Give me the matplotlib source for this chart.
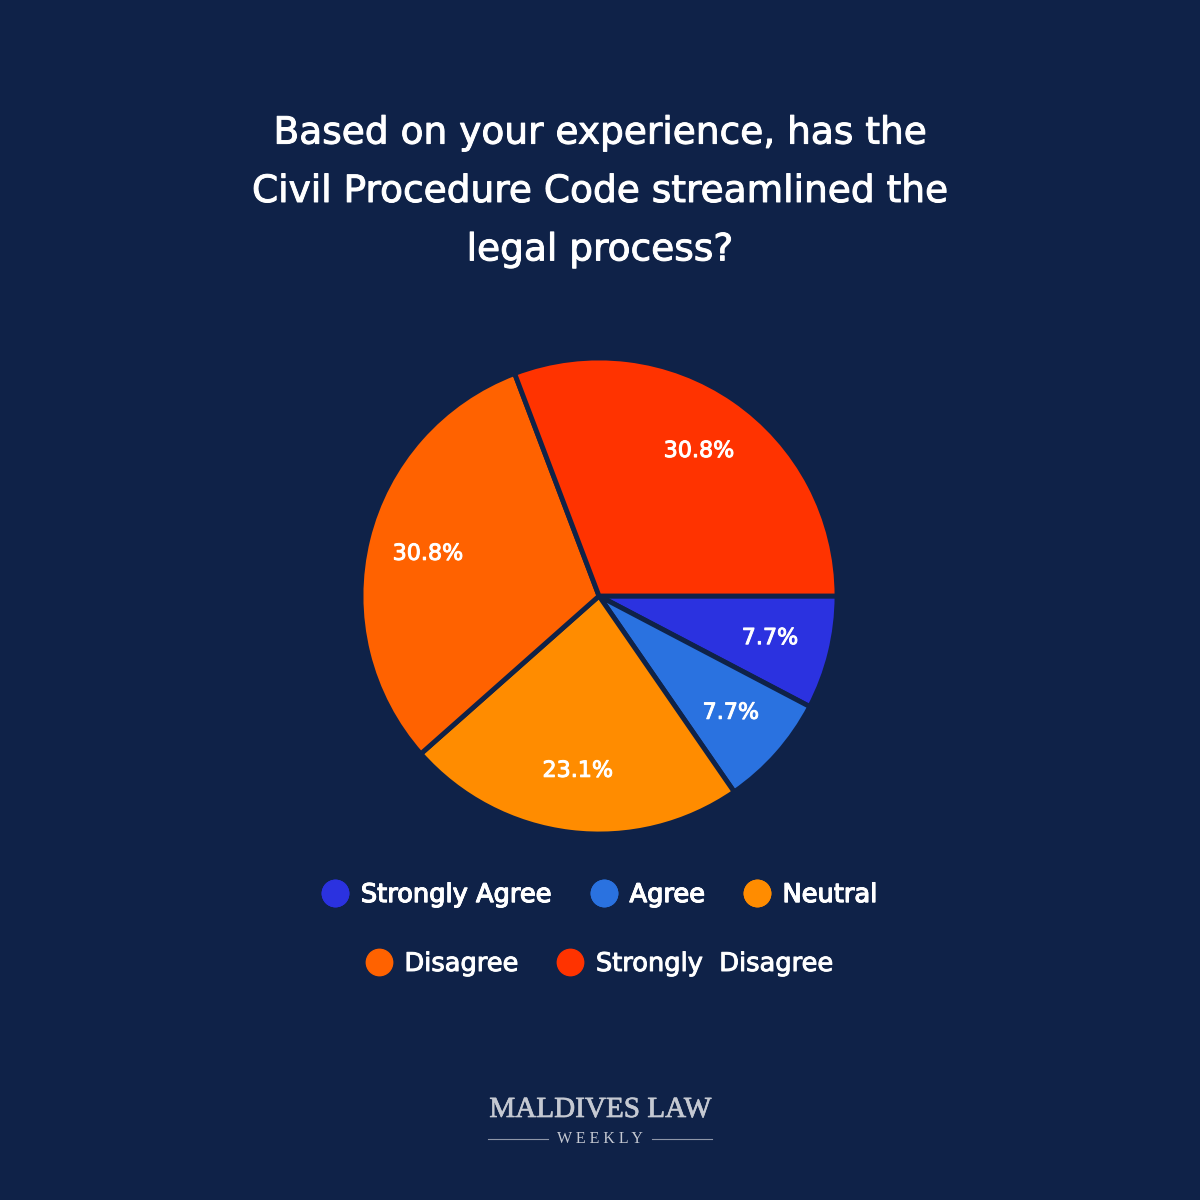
import matplotlib
matplotlib.use('Agg')
import matplotlib.pyplot as plt
import matplotlib.patheffects as pe
from matplotlib.lines import Line2D

labels = ['Strongly Agree', 'Agree', 'Neutral', 'Disagree', 'Strongly  Disagree']
values = [7.7, 7.7, 23.1, 30.8, 30.8]
colors = ['#2B32E0', '#2A72E0', '#FF8C00', '#FF6200', '#FF3300']
title = 'Based on your experience, has the\nCivil Procedure Code streamlined the\nlegal process?'

bg = '#0F2248'
font = 'DejaVu Sans'
# slight stroke to mimic a medium weight
bold = [pe.withStroke(linewidth=0.7, foreground='white')]

fig = plt.figure(figsize=(12, 12), dpi=100, facecolor=bg)

# pie axes: centre ~ (599, 596) px, radius ~ 238 px
r = 238 / 1200
cx, cy = 599 / 1200, 1 - 596 / 1200
ax = fig.add_axes([cx - r, cy - r, 2 * r, 2 * r])
ax.set_facecolor(bg)
wedges, texts, autotexts = ax.pie(
    values, colors=colors, startangle=0, counterclock=False,
    autopct='%1.1f%%', pctdistance=0.74, radius=1,
    wedgeprops={'edgecolor': bg, 'linewidth': 3.5},
    textprops={'color': 'white', 'fontsize': 16, 'family': font})
for t in autotexts:
    t.set_path_effects(bold)
ax.set_xlim(-1, 1)
ax.set_ylim(-1, 1)
ax.set_aspect('equal')
ax.axis('off')

fig.text(0.5, 1 - 192 / 1200, title, ha='center', va='center',
         color='white', fontsize=27, family=font, linespacing=1.8,
         path_effects=bold)

# legend in two centred rows
handles = [Line2D([], [], marker='o', linestyle='none', markersize=19,
                  markerfacecolor=c, markeredgecolor=c) for c in colors]
leg_kw = dict(frameon=False, handletextpad=0.5, columnspacing=1.5,
              handlelength=1.0, labelcolor='white',
              prop={'family': font, 'size': 18.5})
leg1 = fig.legend(handles[:3], labels[:3], ncol=3, loc='center',
                  bbox_to_anchor=(0.5, 1 - 895 / 1200), **leg_kw)
fig.add_artist(leg1)
leg2 = fig.legend(handles[3:], labels[3:], ncol=2, loc='center',
                  bbox_to_anchor=(0.5, 1 - 964 / 1200), **leg_kw)
for leg in (leg1, leg2):
    for t in leg.get_texts():
        t.set_path_effects(bold)

# logo
logo = '#C5C9D2'
fig.text(0.5, 1 - 1110 / 1200, 'MALDIVES LAW', ha='center', va='center',
         color=logo, fontsize=21, family='Liberation Serif',
         path_effects=[pe.withStroke(linewidth=0.5, foreground=logo)])
fig.text(0.5, 1 - 1139 / 1200, 'W E E K L Y', ha='center', va='center',
         color=logo, fontsize=11.5, family='Liberation Serif')
y_line = 1 - 1139 / 1200
fig.add_artist(Line2D([488 / 1200, 548 / 1200], [y_line, y_line],
                      color=logo, linewidth=0.8, alpha=0.7))
fig.add_artist(Line2D([652 / 1200, 712 / 1200], [y_line, y_line],
                      color=logo, linewidth=0.8, alpha=0.7))

fig.savefig('out.png', dpi=100, facecolor=bg)
